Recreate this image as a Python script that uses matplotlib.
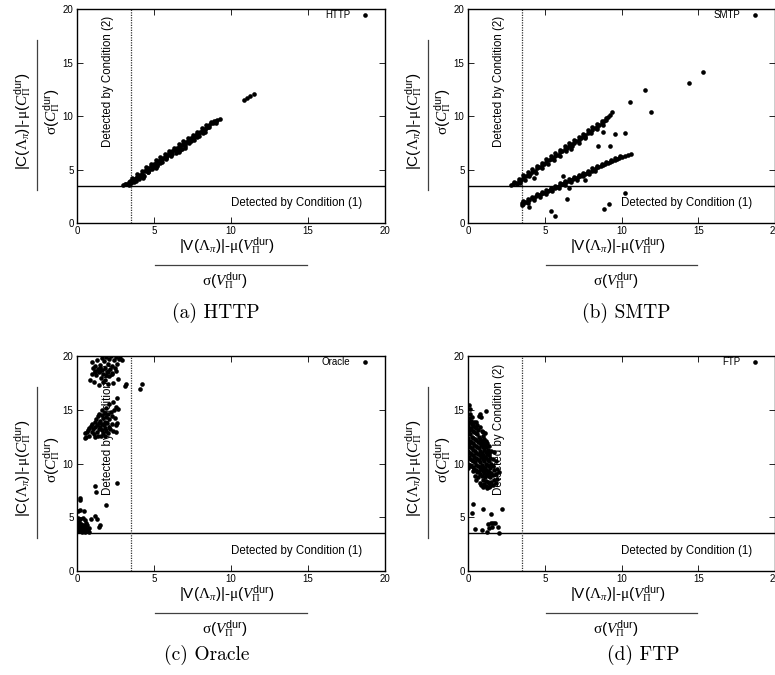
import numpy as np
import matplotlib
matplotlib.use("Agg")
import matplotlib.pyplot as plt

plt.rcParams['font.family'] = ['Liberation Sans', 'DejaVu Sans']
plt.rcParams['mathtext.fontset'] = 'custom'
plt.rcParams['mathtext.rm'] = 'Liberation Serif'
plt.rcParams['mathtext.it'] = 'Liberation Serif:italic'
plt.rcParams['mathtext.sf'] = 'Liberation Sans'

# thresholds of the two conditions
cond1 = 3.5
cond2 = 3.5
ticks = [0, 5, 10, 15, 20]

# points (x, y)
http_pts = [
    (3.0, 3.55), (3.1, 3.6), (3.2, 3.65), (3.3, 3.6), (3.35, 3.8), (3.45, 3.9), (3.5, 3.7),
    (3.6, 4.0), (3.7, 4.1), (3.8, 4.2), (3.9, 4.3), (4.0, 4.4), (4.1, 4.5), (4.2, 4.6),
    (4.25, 4.3), (4.35, 4.4), (4.4, 4.9), (4.5, 5.0), (4.6, 5.1), (4.7, 5.0), (4.8, 5.3),
    (4.9, 5.4), (5.0, 5.5), (5.0, 5.2), (5.1, 5.6), (5.2, 5.4), (5.3, 5.8), (5.4, 5.9),
    (5.5, 6.0), (5.6, 6.1), (5.7, 6.2), (5.8, 6.2), (5.9, 6.4), (6.0, 6.5), (6.1, 6.6),
    (6.2, 6.7), (6.3, 6.8), (6.4, 6.8), (6.5, 7.0), (6.6, 7.1), (6.6, 6.8), (6.7, 7.2),
    (6.8, 7.3), (6.8, 6.9), (6.9, 7.4), (7.0, 7.4), (7.0, 7.0), (7.1, 7.6), (7.2, 7.7),
    (7.3, 7.7), (7.4, 7.9), (7.5, 8.0), (7.6, 8.0), (7.7, 8.2), (7.8, 8.3), (7.9, 8.4),
    (8.0, 8.5), (8.1, 8.6), (8.2, 8.7), (8.3, 8.8), (8.4, 8.9), (8.5, 9.0), (8.6, 9.2),
    (8.7, 9.3), (8.8, 9.3), (8.9, 9.5), (9.0, 9.5), (9.1, 9.6), (9.3, 9.7),
    (3.4, 3.55), (3.8, 3.95), (4.2, 4.45), (4.6, 4.8), (5.0, 5.3), (5.4, 5.65), (5.8, 6.05),
    (6.2, 6.45), (6.6, 6.9), (7.0, 7.2), (7.4, 7.65), (7.8, 8.05), (8.2, 8.45), (8.6, 8.95),
    (9.0, 9.3),
    (3.6, 4.25), (3.9, 4.55), (4.2, 4.85), (4.5, 5.2), (4.8, 5.5), (5.1, 5.85), (5.4, 6.15),
    (5.7, 6.45), (6.0, 6.75), (6.3, 7.05), (6.6, 7.35), (6.9, 7.65), (7.2, 7.95), (7.5, 8.25),
    (7.8, 8.55), (8.1, 8.85), (8.4, 9.15), (8.7, 9.45),
    (3.7, 3.8), (4.0, 4.1), (4.3, 4.45), (4.6, 4.75), (4.9, 5.05), (5.2, 5.35), (5.5, 5.7),
    (5.8, 5.95), (6.1, 6.25), (6.4, 6.55), (6.7, 6.85), (7.3, 7.45), (7.6, 7.75), (7.9, 8.1),
    (8.3, 8.5), (4.3, 4.25), (5.1, 5.15), (6.6, 6.65),
    (10.85, 11.45), (11.05, 11.65), (11.25, 11.85), (11.5, 12.1),
]

smtp_pts = [
    # upper band
    (2.8, 3.55), (2.95, 3.6), (3.1, 3.75), (3.2, 3.6), (3.3, 3.9), (3.45, 4.0), (3.6, 4.2),
    (3.75, 4.35), (3.9, 4.5), (4.05, 4.6), (4.2, 4.8), (4.35, 4.9), (4.5, 5.1), (4.65, 5.2),
    (4.8, 5.4), (4.95, 5.5), (5.1, 5.7), (5.25, 5.85), (5.4, 6.0), (5.55, 6.1), (5.7, 6.3),
    (5.85, 6.4), (6.0, 6.6), (6.15, 6.75), (6.3, 6.9), (6.45, 7.05), (6.6, 7.2), (6.75, 7.35),
    (6.9, 7.5), (7.05, 7.65), (7.2, 7.8), (7.35, 7.95), (7.5, 8.1), (7.65, 8.25), (7.8, 8.4),
    (7.95, 8.55), (8.1, 8.7), (8.25, 8.85), (8.4, 9.0), (8.55, 9.15), (8.7, 9.3), (8.85, 9.5),
    (9.0, 9.65), (9.1, 9.9), (9.25, 10.1), (9.4, 10.4),
    (3.4, 3.7), (3.7, 4.05), (4.0, 4.35), (4.4, 4.7), (4.8, 5.1), (5.2, 5.5), (5.6, 5.9),
    (6.0, 6.3), (6.4, 6.7), (6.8, 7.2), (7.2, 7.5), (7.6, 8.0), (8.0, 8.4), (8.4, 8.8),
    (8.8, 9.2),
    (3.0, 3.85), (3.3, 4.15), (3.6, 4.45), (3.9, 4.75), (4.2, 5.05), (4.5, 5.35), (4.8, 5.65),
    (5.1, 5.95), (5.4, 6.25), (5.7, 6.55), (6.0, 6.85), (6.3, 7.15), (6.6, 7.45), (6.9, 7.75),
    (7.2, 8.05), (7.5, 8.35), (7.8, 8.65), (8.1, 8.95), (8.4, 9.25), (8.7, 9.55), (9.0, 9.85),
    # lower band
    (3.5, 1.7), (3.5, 1.9), (3.6, 1.8), (3.7, 2.0), (3.85, 2.0), (4.0, 2.15), (4.15, 2.3),
    (4.3, 2.35), (4.45, 2.5), (4.6, 2.6), (4.75, 2.7), (4.9, 2.8), (5.05, 2.9), (5.2, 3.0),
    (5.35, 3.1), (5.5, 3.2), (5.65, 3.3), (5.8, 3.4), (5.95, 3.5), (6.1, 3.6), (6.25, 3.7),
    (6.4, 3.8), (6.55, 3.9), (6.7, 4.0), (6.85, 4.1), (7.0, 4.2), (7.15, 4.3), (7.3, 4.4),
    (7.45, 4.5), (7.6, 4.6), (7.75, 4.7), (7.9, 4.8), (8.05, 4.9), (8.2, 5.0), (8.35, 5.1),
    (8.5, 5.2), (8.65, 5.3), (8.8, 5.4), (8.95, 5.5), (9.1, 5.6), (9.25, 5.7), (9.4, 5.8),
    (9.55, 5.9), (9.7, 6.0), (9.85, 6.1), (10.0, 6.15), (10.2, 6.25), (10.4, 6.35), (10.65, 6.45),
    (3.9, 1.9), (4.3, 2.15), (4.7, 2.45), (5.1, 2.7), (5.5, 3.0), (5.9, 3.25), (6.3, 3.55),
    (6.7, 3.8), (7.1, 4.05), (7.5, 4.35), (7.9, 4.6), (8.3, 4.85),
    (3.6, 2.05), (3.9, 2.25), (4.2, 2.45), (4.5, 2.7), (4.8, 2.9), (5.1, 3.1), (5.4, 3.3),
    (5.7, 3.5), (6.0, 3.7), (6.3, 3.9), (6.6, 4.1), (6.9, 4.3), (7.2, 4.5), (7.5, 4.7),
    (7.8, 4.9), (8.1, 5.1), (8.4, 5.3), (8.7, 5.5), (9.0, 5.7), (9.3, 5.9), (9.6, 6.1),
    (9.9, 6.3),
    # scattered
    (15.3, 14.1), (14.4, 13.05), (11.5, 12.4), (10.55, 11.3), (11.9, 10.4), (10.25, 8.4),
    (9.55, 8.3), (8.8, 8.55), (7.65, 7.9), (8.5, 7.2), (9.25, 7.2), (6.7, 6.9), (6.2, 4.4),
    (6.6, 3.3), (6.45, 2.25), (10.25, 2.77), (9.2, 1.75), (8.85, 1.28), (5.7, 0.65),
    (5.4, 1.12), (4.0, 1.52), (4.3, 4.2), (7.6, 4.0),
]

oracle_pts = [
    # top cluster
    (0.85, 17.8), (0.95, 18.3), (1.0, 19.4), (1.05, 18.9), (1.1, 17.6), (1.15, 18.6), (1.2, 19.1),
    (1.25, 18.2), (1.3, 19.6), (1.35, 18.8), (1.4, 17.3), (1.45, 18.5), (1.5, 19.2), (1.55, 18.0),
    (1.6, 19.8), (1.65, 18.7), (1.7, 18.3), (1.75, 19.5), (1.8, 18.9), (1.85, 17.8), (1.9, 19.9),
    (1.95, 18.5), (2.0, 19.3), (2.05, 18.1), (2.1, 19.7), (2.15, 18.8), (2.2, 20.0), (2.25, 19.1),
    (2.3, 18.4), (2.35, 17.5), (2.4, 19.6), (2.45, 18.9), (2.5, 19.9), (2.55, 18.6), (2.6, 19.3),
    (2.65, 17.9), (2.7, 19.7), (2.8, 19.8), (2.9, 19.6), (1.7, 17.6), (2.0, 17.4), (3.1, 17.2),
    (3.2, 17.4), (4.1, 16.9), (4.25, 17.35), (1.2, 18.5), (1.5, 18.9), (2.25, 18.3), (1.9, 18.2),
    (2.0, 18.6),
    # middle cluster
    (0.5, 12.4), (0.55, 12.8), (0.6, 12.5), (0.65, 12.9), (0.7, 13.1), (0.75, 12.6), (0.8, 13.3),
    (0.9, 13.5), (0.95, 12.9), (1.0, 13.7), (1.05, 13.2), (1.1, 12.7), (1.15, 13.9), (1.2, 13.4),
    (1.2, 12.5), (1.25, 14.1), (1.3, 13.6), (1.3, 12.9), (1.35, 14.4), (1.4, 13.8), (1.4, 13.2),
    (1.45, 14.6), (1.5, 14.0), (1.5, 13.4), (1.55, 12.6), (1.6, 14.5), (1.6, 13.7), (1.65, 13.1),
    (1.7, 14.2), (1.7, 12.8), (1.75, 13.6), (1.8, 14.7), (1.8, 13.9), (1.85, 13.3), (1.85, 12.6),
    (1.9, 14.3), (1.9, 13.0), (1.95, 13.8), (2.0, 14.6), (2.0, 12.8), (2.05, 13.4), (2.1, 14.1),
    (2.15, 13.2), (2.2, 14.8), (2.25, 13.7), (2.3, 14.4), (2.35, 13.0), (2.4, 15.0), (2.45, 14.2),
    (2.5, 13.6), (2.55, 15.3), (2.6, 13.8), (2.65, 15.1), (2.35, 15.7), (2.6, 16.1), (2.5, 12.9),
    (1.6, 15.0), (1.9, 15.2), (2.1, 15.5), (1.35, 12.6),
    # outliers
    (1.15, 7.9), (1.26, 7.37), (1.91, 6.13), (2.62, 8.15), (0.18, 6.76), (0.2, 6.6),
    # bottom cluster
    (0.05, 5.6), (0.18, 5.67), (0.46, 5.57), (0.05, 4.9), (0.1, 4.6), (0.15, 4.2), (0.2, 3.9),
    (0.25, 4.4), (0.3, 4.0), (0.35, 3.7), (0.4, 4.3), (0.45, 3.8), (0.5, 4.1), (0.55, 4.7),
    (0.6, 3.9), (0.65, 4.3), (0.7, 3.7), (0.75, 4.0), (0.05, 3.7), (0.1, 4.1), (0.3, 3.6),
    (0.5, 3.6), (0.6, 4.5), (0.2, 4.8), (0.4, 4.9), (1.19, 5.1), (1.32, 4.8), (0.94, 4.8),
    (1.47, 4.27), (1.45, 4.06), (0.0, 4.3), (0.15, 3.8), (0.8, 3.6),
]

ftp_pts = [
    (0.0, 10.0), (0.0, 11.2), (0.0, 12.4), (0.0, 13.6), (0.0, 9.6),
    (0.05, 15.4), (0.05, 10.6), (0.05, 11.8), (0.05, 13.0), (0.05, 14.2),
    (0.1, 9.9), (0.1, 11.0), (0.1, 12.1), (0.1, 13.3), (0.1, 14.6),
    (0.15, 10.4), (0.15, 11.5), (0.15, 12.7), (0.15, 13.9), (0.15, 15.1),
    (0.2, 9.8), (0.2, 10.9), (0.2, 12.0), (0.2, 13.2), (0.2, 14.0),
    (0.25, 10.3), (0.25, 11.4), (0.25, 12.5), (0.25, 13.7), (0.25, 14.3),
    (0.3, 9.7), (0.3, 10.8), (0.3, 11.9), (0.3, 13.0), (0.3, 13.8),
    (0.35, 10.2), (0.35, 11.3), (0.35, 12.4), (0.35, 13.5), (0.35, 9.3),
    (0.4, 9.5), (0.4, 10.6), (0.4, 11.7), (0.4, 12.9), (0.4, 13.9),
    (0.45, 10.1), (0.45, 11.2), (0.45, 12.3), (0.45, 13.4), (0.45, 8.8),
    (0.5, 9.4), (0.5, 10.5), (0.5, 11.6), (0.5, 12.8), (0.5, 13.9),
    (0.55, 9.9), (0.55, 11.0), (0.55, 12.2), (0.55, 13.3), (0.55, 8.5),
    (0.6, 9.2), (0.6, 10.4), (0.6, 11.5), (0.6, 12.7), (0.6, 13.6),
    (0.65, 8.7), (0.65, 9.8), (0.65, 10.9), (0.65, 12.0), (0.65, 13.1),
    (0.7, 9.3), (0.7, 10.3), (0.7, 11.4), (0.7, 12.5), (0.7, 14.4),
    (0.75, 8.2), (0.75, 9.7), (0.75, 10.8), (0.75, 11.9), (0.75, 14.6),
    (0.8, 9.0), (0.8, 10.1), (0.8, 11.2), (0.8, 12.3), (0.8, 13.4),
    (0.85, 8.0), (0.85, 9.5), (0.85, 10.6), (0.85, 11.7), (0.85, 14.3),
    (0.9, 8.8), (0.9, 9.9), (0.9, 11.0), (0.9, 12.1), (0.9, 13.0),
    (0.95, 7.8), (0.95, 9.3), (0.95, 10.4), (0.95, 11.5), (0.95, 12.6),
    (1.0, 8.5), (1.0, 9.7), (1.0, 10.8), (1.0, 11.9), (1.0, 12.9),
    (1.05, 8.1), (1.05, 9.1), (1.05, 10.2), (1.05, 11.3), (1.05, 12.3),
    (1.1, 8.7), (1.1, 9.6), (1.1, 10.6), (1.1, 11.7), (1.1, 12.8),
    (1.15, 7.9), (1.15, 9.0), (1.15, 10.0), (1.15, 11.1), (1.15, 12.1),
    (1.2, 8.4), (1.2, 9.4), (1.2, 10.5), (1.2, 11.5), (1.2, 14.9),
    (1.25, 7.7), (1.25, 8.9), (1.25, 9.9), (1.25, 10.9), (1.25, 11.9),
    (1.3, 8.3), (1.3, 9.3), (1.3, 10.3), (1.3, 11.3),
    (1.35, 7.8), (1.35, 8.8), (1.35, 9.8), (1.35, 10.8), (1.35, 11.6),
    (1.4, 8.2), (1.4, 9.2), (1.4, 10.2), (1.4, 11.0),
    (1.45, 7.9), (1.45, 8.7), (1.45, 9.6), (1.45, 10.5),
    (1.5, 8.3), (1.5, 9.1), (1.5, 10.0), (1.5, 11.2),
    (1.6, 8.0), (1.6, 8.9), (1.6, 9.8), (1.6, 10.4),
    (1.7, 8.5), (1.7, 9.4), (1.7, 11.1),
    (1.8, 8.2), (1.8, 9.0), (1.8, 10.2),
    (1.9, 8.6), (1.9, 9.5), (2.05, 9.2),
    # lower scatter
    (0.32, 6.2), (0.26, 5.35), (0.48, 3.9), (0.97, 5.73), (0.91, 3.8), (1.26, 3.65),
    (1.52, 5.26), (1.47, 4.5), (1.62, 4.5), (1.73, 4.5), (1.36, 4.0), (1.56, 4.1),
    (1.95, 4.06), (2.0, 3.56), (2.2, 5.76), (1.3, 4.4),
]

panels = [
    ('HTTP', '(a) HTTP', http_pts),
    ('SMTP', '(b) SMTP', smtp_pts),
    ('Oracle', '(c) Oracle', oracle_pts),
    ('FTP', '(d) FTP', ftp_pts),
]

# axes boxes in pixels: left, top, width, height
boxes = [(77, 9, 308, 214), (468, 9, 307, 214), (77, 356, 308, 215), (468, 356, 307, 215)]
captions_xy = [(216, 313), (626, 313), (207, 655), (643, 655)]

W, H = 775, 675
fig = plt.figure(figsize=(W / 100, H / 100), dpi=100)

xnum = r'|V($\Lambda_{\pi}$)|-$\mathrm{\mu}$($V_{\Pi}^{\mathsf{dur}}$)'
xden = r'$\mathrm{\sigma}$($V_{\Pi}^{\mathsf{dur}}$)'
ynum = r'|C($\Lambda_{\pi}$)|-$\mathrm{\mu}$($C_{\Pi}^{\mathsf{dur}}$)'
yden = r'$\mathrm{\sigma}$($C_{\Pi}^{\mathsf{dur}}$)'

for (name, cap, pts), (l, t, w, h), (cx, cy) in zip(panels, boxes, captions_xy):
    ax = fig.add_axes([l / W, 1 - (t + h) / H, w / W, h / H])
    pts = np.array(pts)
    ax.scatter(pts[:, 0], pts[:, 1], s=11, color='black', linewidths=0, zorder=3, label=name)
    ax.axhline(cond1, color='black', lw=1.0, zorder=2)
    ax.axvline(cond2, color='0.2', lw=0.9, ls=(0, (1, 1)), zorder=2)
    ax.text(18.5, 1.87, 'Detected by Condition (1)', ha='right', va='center', fontsize=8.3, zorder=1)
    ax.text(2.0, 7.1, 'Detected by Condition (2)', rotation=90, ha='center', va='bottom',
            fontsize=8.3, zorder=1)
    ax.set_xlim(0, 20)
    ax.set_ylim(0, 20)
    ax.set_xticks(ticks)
    ax.set_yticks(ticks)
    ax.tick_params(direction='in', length=4, width=0.6, top=True, right=True,
                   labelsize=7, pad=2.5)
    for sp in ax.spines.values():
        sp.set_linewidth(1.0)
    ax.legend(loc='center right', bbox_to_anchor=(0.945, 0.972), markerfirst=False,
              frameon=False, fontsize=7, handlelength=0.6, handletextpad=1.2,
              borderpad=0, borderaxespad=0, scatterpoints=1)

    # x fraction label
    ax.text(0.487, -0.11, xnum, transform=ax.transAxes, ha='center', va='center', fontsize=11)
    ax.plot([0.253, 0.747], [-0.196, -0.196], transform=ax.transAxes, color='0.25',
            lw=0.9, clip_on=False)
    ax.text(0.48, -0.271, xden, transform=ax.transAxes, ha='center', va='center', fontsize=11)
    # y fraction label
    ax.text(-0.175, 0.477, ynum, transform=ax.transAxes, ha='center', va='center',
            rotation=90, fontsize=11)
    ax.plot([-0.130, -0.130], [0.154, 0.855], transform=ax.transAxes, color='0.25',
            lw=0.9, clip_on=False)
    ax.text(-0.081, 0.519, yden, transform=ax.transAxes, ha='center', va='center',
            rotation=90, fontsize=11)

    fig.text(cx / W, 1 - cy / H, cap, ha='center', va='center', fontsize=14, family='cmr10')

fig.savefig('out.png', dpi=100)
